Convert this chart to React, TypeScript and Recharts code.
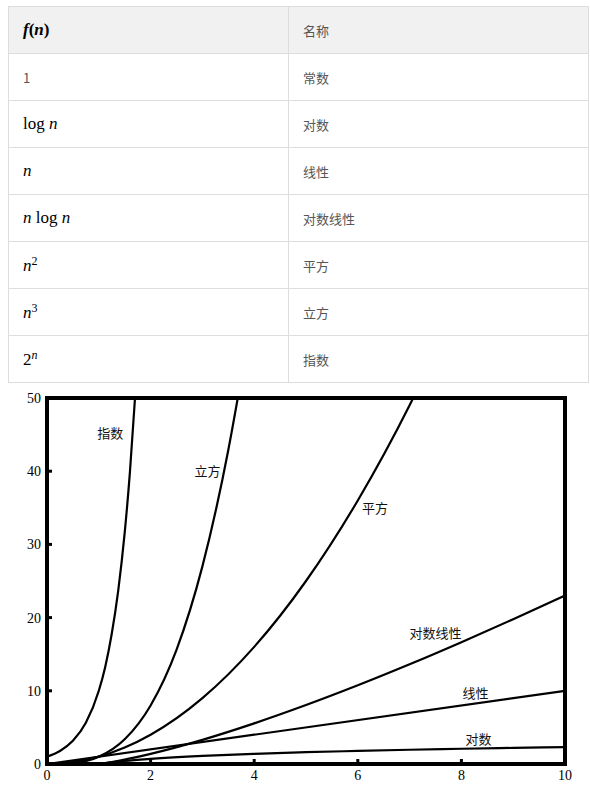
import { LineChart, Line, XAxis, YAxis, ReferenceArea, ReferenceDot } from 'recharts'

// table rows: f(n) and its Chinese name
const names = ['常数', '对数', '线性', '对数线性', '平方', '立方', '指数']

// curve samples
const expPts = [
  { x: 0, y: 1 }, { x: 0.25, y: 1.78 }, { x: 0.5, y: 3.16 }, { x: 0.75, y: 5.62 },
  { x: 1, y: 10 }, { x: 1.125, y: 13.3 }, { x: 1.25, y: 17.8 }, { x: 1.375, y: 23.7 },
  { x: 1.5, y: 31.6 }, { x: 1.6, y: 39.8 }, { x: 1.7, y: 50.1 }, { x: 1.75, y: 56.2 },
]
const cubePts = [
  { x: 0, y: 0 }, { x: 0.5, y: 0.13 }, { x: 1, y: 1 }, { x: 1.5, y: 3.38 }, { x: 2, y: 8 },
  { x: 2.5, y: 15.6 }, { x: 3, y: 27 }, { x: 3.5, y: 42.9 }, { x: 3.75, y: 52.7 },
]
const squarePts = [
  { x: 0, y: 0 }, { x: 0.5, y: 0.25 }, { x: 1, y: 1 }, { x: 1.5, y: 2.25 }, { x: 2, y: 4 },
  { x: 3, y: 9 }, { x: 4, y: 16 }, { x: 5, y: 25 }, { x: 6, y: 36 }, { x: 7, y: 49 }, { x: 7.25, y: 52.6 },
]
const nlognPts = [
  { x: 0, y: 0 }, { x: 0.1, y: -0.23 }, { x: 0.25, y: -0.35 }, { x: 0.5, y: -0.35 }, { x: 1, y: 0 },
  { x: 1.5, y: 0.61 }, { x: 2, y: 1.39 }, { x: 3, y: 3.3 }, { x: 4, y: 5.55 }, { x: 5, y: 8.05 },
  { x: 6, y: 10.75 }, { x: 7, y: 13.62 }, { x: 8, y: 16.64 }, { x: 9, y: 19.78 }, { x: 10, y: 23.03 },
]
const linearPts = [{ x: 0, y: 0 }, { x: 10, y: 10 }]
const logPts = [
  { x: 0.1, y: -2.3 }, { x: 0.25, y: -1.39 }, { x: 0.5, y: -0.69 }, { x: 1, y: 0 }, { x: 1.5, y: 0.41 },
  { x: 2, y: 0.69 }, { x: 3, y: 1.1 }, { x: 4, y: 1.39 }, { x: 5, y: 1.61 }, { x: 6, y: 1.79 },
  { x: 7, y: 1.95 }, { x: 8, y: 2.08 }, { x: 9, y: 2.2 }, { x: 10, y: 2.3 },
]

const curveLabels = [
  { text: '指数', x: 1.22, y: 45.1 },
  { text: '立方', x: 3.1, y: 40 },
  { text: '平方', x: 6.33, y: 34.9 },
  { text: '对数线性', x: 7.5, y: 17.8 },
  { text: '线性', x: 8.27, y: 9.7 },
  { text: '对数', x: 8.33, y: 3.4 },
]

const xTicks = [0, 2, 4, 6, 8, 10]
const yTicks = [0, 10, 20, 30, 40, 50]

const serif = '"Liberation Serif", "DejaVu Serif", serif'
const sans = '"Noto Sans CJK SC", "Noto Sans", sans-serif'
const border = '1px solid #dddddd'

const N = () => <i>n</i>
const sup = { fontSize: 12, verticalAlign: 6 }
const math = { fontFamily: serif, fontSize: 17 }

const formulas = [
  <span>1</span>,
  <span style={math}>log <N /></span>,
  <span style={math}><N /></span>,
  <span style={math}><N /> log <N /></span>,
  <span style={math}><N /><sup style={sup}>2</sup></span>,
  <span style={math}><N /><sup style={sup}>3</sup></span>,
  <span style={math}>2<sup style={sup}><N /></sup></span>,
]

function ComplexityTable() {
  const cell = {
    height: 46,
    padding: '0 14px',
    borderBottom: border,
    verticalAlign: 'middle' as const,
    color: '#555',
    fontFamily: sans,
    fontSize: 13,
  }
  return (
    <table
      style={{
        position: 'absolute',
        left: 8,
        top: 6,
        width: 580,
        tableLayout: 'fixed',
        borderCollapse: 'collapse',
        border,
      }}
    >
      <colgroup>
        <col style={{ width: 280 }} />
        <col style={{ width: 300 }} />
      </colgroup>
      <tbody>
        <tr style={{ background: '#f1f1f1' }}>
          <td style={{ ...cell, borderRight: border, borderTop: border }}>
            <span style={{ ...math, fontWeight: 'bold', color: '#000' }}>
              <i>f</i>(<i>n</i>)
            </span>
          </td>
          <td style={{ ...cell, borderTop: border }}>名称</td>
        </tr>
        {names.map((name, i) => (
          <tr key={name}>
            <td style={{ ...cell, borderRight: border, color: i === 0 ? '#555' : '#000' }}>{formulas[i]}</td>
            <td style={cell}>{name}</td>
          </tr>
        ))}
      </tbody>
    </table>
  )
}

const tickStyle = { fill: '#000', fontSize: 14, fontFamily: serif }
const markLine = { stroke: '#000', strokeWidth: 3 }

function GrowthChart() {
  return (
    <div style={{ position: 'absolute', left: 0, top: 382 }}>
      <LineChart width={590} height={407} margin={{ top: 16, right: 25, bottom: 0, left: 7 }}>
        <XAxis
          type="number"
          dataKey="x"
          domain={[0, 10]}
          ticks={xTicks}
          allowDataOverflow
          axisLine={false}
          tickLine={markLine}
          tickSize={-5}
          tickMargin={11}
          tick={tickStyle}
          height={25}
        />
        <XAxis
          xAxisId="top"
          orientation="top"
          type="number"
          dataKey="x"
          domain={[0, 10]}
          ticks={xTicks}
          axisLine={false}
          tickLine={markLine}
          tickSize={-5}
          tick={false}
          height={0}
        />
        <YAxis
          type="number"
          domain={[0, 50]}
          ticks={yTicks}
          allowDataOverflow
          axisLine={false}
          tickLine={markLine}
          tickSize={-5}
          tickMargin={11}
          tick={tickStyle}
          width={40}
        />
        <YAxis
          yAxisId="right"
          orientation="right"
          type="number"
          domain={[0, 50]}
          ticks={yTicks}
          axisLine={false}
          tickLine={markLine}
          tickSize={-5}
          tick={false}
          width={0}
        />
        <Line data={expPts} dataKey="y" type="monotone" stroke="#000" strokeWidth={2.2} dot={false} isAnimationActive={false} />
        <Line data={cubePts} dataKey="y" type="monotone" stroke="#000" strokeWidth={2.2} dot={false} isAnimationActive={false} />
        <Line data={squarePts} dataKey="y" type="monotone" stroke="#000" strokeWidth={2.2} dot={false} isAnimationActive={false} />
        <Line data={nlognPts} dataKey="y" type="monotone" stroke="#000" strokeWidth={2.2} dot={false} isAnimationActive={false} />
        <Line data={linearPts} dataKey="y" type="linear" stroke="#000" strokeWidth={2.2} dot={false} isAnimationActive={false} />
        <Line data={logPts} dataKey="y" type="monotone" stroke="#000" strokeWidth={2.2} dot={false} isAnimationActive={false} />
        <ReferenceArea x1={0} x2={10} y1={0} y2={50} fill="none" stroke="#000" strokeWidth={4} />
        {curveLabels.map((l) => (
          <ReferenceDot
            key={l.text}
            x={l.x}
            y={l.y}
            r={0}
            fill="none"
            stroke="none"
            label={{ value: l.text, position: 'center', fill: '#111', fontSize: 13, fontFamily: sans }}
          />
        ))}
      </LineChart>
    </div>
  )
}

export default function App() {
  return (
    <div style={{ position: 'relative', width: 590, height: 789 }}>
      <style>{'body { margin: 0; }'}</style>
      <ComplexityTable />
      <GrowthChart />
    </div>
  )
}
